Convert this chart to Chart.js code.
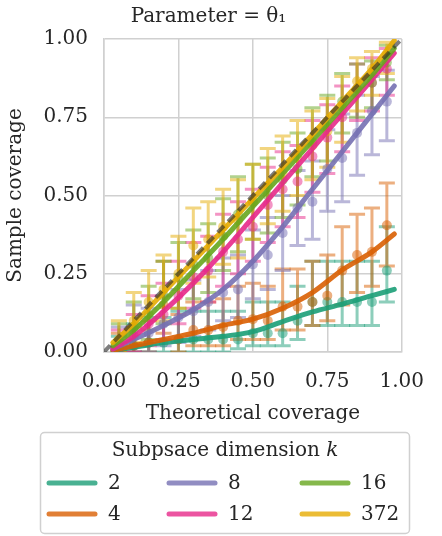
<!DOCTYPE html>
<html>
<head>
<meta charset="utf-8">
<script src="https://cdn.jsdelivr.net/npm/chart.js@4"></script>
<style>
  body { margin: 0; background: #fff; }
</style>
</head>
<body>
<canvas id="c" width="442" height="536"></canvas>
<script>
// theoretical coverage levels where the points sit
const xs = [0.05, 0.10, 0.15, 0.20, 0.25, 0.30, 0.35, 0.40, 0.45, 0.50,
            0.55, 0.60, 0.65, 0.70, 0.75, 0.80, 0.85, 0.90, 0.95];
// x positions of the smoothed curves
const curveX = [0.03, 0.1, 0.2, 0.3, 0.4, 0.5, 0.6, 0.7, 0.8, 0.9, 0.975];

const dims = ['2', '4', '8', '12', '16', '372'];
const colors = ['#1b9e77', '#d95f02', '#7570b3', '#e7298a', '#66a61e', '#e6ab02'];

// sample coverage (points), lower / upper interval ends
const cov2  = [0.01,0.02,0.03,0.03,0.04,0.04,0.04,0.04,0.04,0.06,0.06,0.06,0.10,0.16,0.16,0.16,0.16,0.16,0.26];
const lo2   = [0,0,0,0,0,0,0,0,0.01,0.02,0.02,0.02,0.04,0.085,0.085,0.085,0.085,0.085,0.16];
const hi2   = [0.05,0.09,0.11,0.11,0.13,0.13,0.13,0.13,0.13,0.16,0.16,0.16,0.21,0.29,0.29,0.29,0.29,0.29,0.40];

const cov4  = [0.01,0.02,0.03,0.15,0.04,0.07,0.07,0.08,0.10,0.105,0.10,0.145,0.145,0.16,0.18,0.26,0.31,0.32,0.405];
const lo4   = [0,0,0,0.06,0,0.02,0.02,0.02,0.04,0.04,0.04,0.07,0.07,0.085,0.10,0.15,0.19,0.21,0.275];
const hi4   = [0.06,0.08,0.10,0.29,0.12,0.16,0.16,0.17,0.21,0.22,0.21,0.265,0.265,0.29,0.31,0.40,0.44,0.46,0.54];

const cov8  = [0.02,0.07,0.06,0.09,0.11,0.13,0.16,0.19,0.20,0.28,0.31,0.38,0.46,0.48,0.585,0.62,0.70,0.77,0.80];
const lo8   = [0,0,0,0.02,0.03,0.05,0.07,0.10,0.11,0.17,0.20,0.26,0.34,0.36,0.45,0.48,0.565,0.63,0.675];
const hi8   = [0.08,0.15,0.14,0.18,0.20,0.23,0.26,0.30,0.31,0.39,0.43,0.50,0.58,0.61,0.71,0.76,0.82,0.88,0.90];

const cov12 = [0.01,0.05,0.09,0.12,0.18,0.24,0.26,0.32,0.36,0.40,0.47,0.52,0.545,0.625,0.685,0.75,0.84,0.86,0.905];
const lo12  = [0,0,0.02,0.04,0.09,0.14,0.16,0.21,0.25,0.29,0.35,0.40,0.43,0.51,0.57,0.64,0.74,0.77,0.82];
const hi12  = [0.07,0.12,0.18,0.22,0.29,0.35,0.37,0.44,0.48,0.52,0.59,0.64,0.66,0.74,0.79,0.85,0.92,0.94,0.97];

const cov16 = [0.03,0.08,0.12,0.18,0.24,0.28,0.30,0.37,0.44,0.48,0.50,0.55,0.585,0.67,0.72,0.80,0.84,0.86,0.925];
const lo16  = [0,0.02,0.04,0.09,0.14,0.17,0.19,0.26,0.32,0.36,0.38,0.43,0.47,0.56,0.61,0.70,0.75,0.78,0.87];
const hi16  = [0.09,0.16,0.21,0.29,0.35,0.39,0.41,0.49,0.56,0.60,0.62,0.67,0.70,0.78,0.82,0.89,0.92,0.93,0.98];

const cov372 = [0.04,0.10,0.16,0.20,0.25,0.34,0.36,0.40,0.42,0.48,0.53,0.57,0.62,0.66,0.705,0.78,0.865,0.905,0.95];
const lo372  = [0,0.03,0.07,0.10,0.14,0.22,0.24,0.28,0.30,0.36,0.41,0.45,0.50,0.55,0.59,0.67,0.77,0.82,0.89];
const hi372  = [0.10,0.19,0.26,0.31,0.37,0.46,0.48,0.52,0.55,0.60,0.65,0.69,0.74,0.77,0.81,0.88,0.94,0.96,0.99];

// smoothed curves
const fit2   = [0.005,0.015,0.03,0.04,0.05,0.065,0.097,0.128,0.153,0.18,0.20];
const fit4   = [0.005,0.02,0.04,0.06,0.085,0.105,0.14,0.19,0.262,0.32,0.377];
const fit8   = [0.01,0.04,0.085,0.135,0.20,0.29,0.40,0.52,0.64,0.76,0.85];
const fit12  = [0.01,0.05,0.13,0.22,0.32,0.43,0.54,0.65,0.76,0.87,0.955];
const fit16  = [0.02,0.07,0.16,0.26,0.36,0.465,0.57,0.675,0.78,0.885,0.97];
const fit372 = [0.03,0.09,0.19,0.29,0.39,0.49,0.59,0.695,0.80,0.905,0.995];

const covs = [cov2, cov4, cov8, cov12, cov16, cov372];
const los  = [lo2, lo4, lo8, lo12, lo16, lo372];
const his  = [hi2, hi4, hi8, hi12, hi16, hi372];
const fits = [fit2, fit4, fit8, fit12, fit16, fit372];

function rgba(hex, a) {
  const n = parseInt(hex.slice(1), 16);
  return `rgba(${n >> 16},${(n >> 8) & 255},${n & 255},${a})`;
}

const FAMILY = "'DejaVu Serif', serif";
const font = { family: FAMILY, size: 20, weight: 'normal' };
const textColor = '#262626';

// vertical intervals with caps, drawn under everything else
const errorBars = {
  id: 'errorBars',
  beforeDatasetsDraw(chart) {
    const { ctx, chartArea: a, scales: { x, y } } = chart;
    ctx.save();
    ctx.beginPath();
    ctx.rect(a.left, a.top, a.right - a.left, a.bottom - a.top);
    ctx.clip();
    ctx.lineWidth = 3;
    dims.forEach((d, s) => {
      ctx.strokeStyle = rgba(colors[s], 0.5);
      xs.forEach((xv, i) => {
        const px = x.getPixelForValue(xv);
        const pl = y.getPixelForValue(los[s][i]);
        const ph = y.getPixelForValue(his[s][i]);
        ctx.beginPath();
        ctx.moveTo(px, pl); ctx.lineTo(px, ph);
        ctx.moveTo(px - 8, pl); ctx.lineTo(px + 8, pl);
        ctx.moveTo(px - 8, ph); ctx.lineTo(px + 8, ph);
        ctx.stroke();
      });
    });
    ctx.restore();
  }
};

// boxed legend under the axes, three columns of two
const boxLegend = {
  id: 'boxLegend',
  afterDraw(chart) {
    const ctx = chart.ctx;
    ctx.save();
    ctx.fillStyle = '#fff';
    ctx.strokeStyle = '#d0d0d0';
    ctx.lineWidth = 1.5;
    ctx.beginPath();
    ctx.roundRect(40.5, 432.5, 369, 101, 4);
    ctx.fill();
    ctx.stroke();

    ctx.fillStyle = textColor;
    ctx.textBaseline = 'middle';
    ctx.font = `20px ${FAMILY}`;
    const t1 = 'Subpsace dimension ';
    ctx.font = `20px ${FAMILY}`;
    const w1 = ctx.measureText(t1).width;
    ctx.font = `italic 20px ${FAMILY}`;
    const w2 = ctx.measureText('k').width;
    const x0 = 225 - (w1 + w2) / 2;
    ctx.font = `20px ${FAMILY}`;
    ctx.textAlign = 'left';
    ctx.fillText(t1, x0, 451);
    ctx.font = `italic 20px ${FAMILY}`;
    ctx.fillText('k', x0 + w1, 451);

    const colX = [47, 167, 300];
    const rowY = [483, 514];
    ctx.font = `20px ${FAMILY}`;
    ctx.lineWidth = 5;
    ctx.lineCap = 'round';
    dims.forEach((d, s) => {
      const cx = colX[Math.floor(s / 2)], cy = rowY[s % 2];
      ctx.strokeStyle = rgba(colors[s], 0.8);
      ctx.beginPath();
      ctx.moveTo(cx + 2, cy);
      ctx.lineTo(cx + 48, cy);
      ctx.stroke();
      ctx.fillStyle = textColor;
      ctx.fillText(d, cx + 61, cy + 1);
    });
    ctx.restore();
  }
};

const datasets = [];
dims.forEach((d, s) => {
  datasets.push({
    type: 'scatter',
    label: d + ' pts',
    data: xs.map((xv, i) => ({ x: xv, y: covs[s][i] })),
    backgroundColor: rgba(colors[s], 0.5),
    borderWidth: 0,
    pointRadius: 5,
    order: 20 - s
  });
  datasets.push({
    type: 'line',
    label: d,
    data: curveX.map((xv, i) => ({ x: xv, y: fits[s][i] })),
    borderColor: rgba(colors[s], 0.9),
    borderWidth: 5,
    borderCapStyle: 'round',
    pointRadius: 0,
    cubicInterpolationMode: 'monotone',
    order: 10 - s
  });
});
datasets.push({
  type: 'line',
  label: 'ideal',
  data: [{ x: 0, y: 0 }, { x: 1, y: 1 }],
  borderColor: 'rgba(40,40,40,0.6)',
  borderWidth: 4,
  borderDash: [9, 6],
  pointRadius: 0,
  order: 0
});

new Chart(document.getElementById('c'), {
  data: { datasets: datasets },
  options: {
    responsive: false,
    animation: false,
    layout: { padding: { left: 0, right: 25, top: 0, bottom: 106 } },
    plugins: {
      legend: { display: false },
      tooltip: { enabled: false },
      title: {
        display: true,
        text: 'Parameter = θ₁',
        font: font,
        color: textColor,
        padding: { top: 5, bottom: 10 }
      }
    },
    scales: {
      x: {
        type: 'linear', min: 0, max: 1,
        ticks: { stepSize: 0.25, font: font, color: textColor, padding: 18,
                 callback: v => v.toFixed(2) },
        grid: { color: '#d0d0d0', lineWidth: 1.5, drawTicks: false },
        border: { color: '#d0d0d0', width: 1.5 },
        title: { display: true, text: 'Theoretical coverage', font: font, color: textColor,
                 padding: { top: 4, bottom: 4 } },
        afterFit: sc => { sc.height = 78; }
      },
      y: {
        type: 'linear', min: 0, max: 1,
        ticks: { stepSize: 0.25, font: font, color: textColor, padding: 16,
                 callback: v => v.toFixed(2) },
        grid: { color: '#d0d0d0', lineWidth: 1.5, drawTicks: false },
        border: { color: '#d0d0d0', width: 1.5 },
        title: { display: true, text: 'Sample coverage', font: font, color: textColor },
        afterFit: sc => { sc.width = 104; }
      }
    }
  },
  plugins: [errorBars, boxLegend]
});
</script>
</body>
</html>
